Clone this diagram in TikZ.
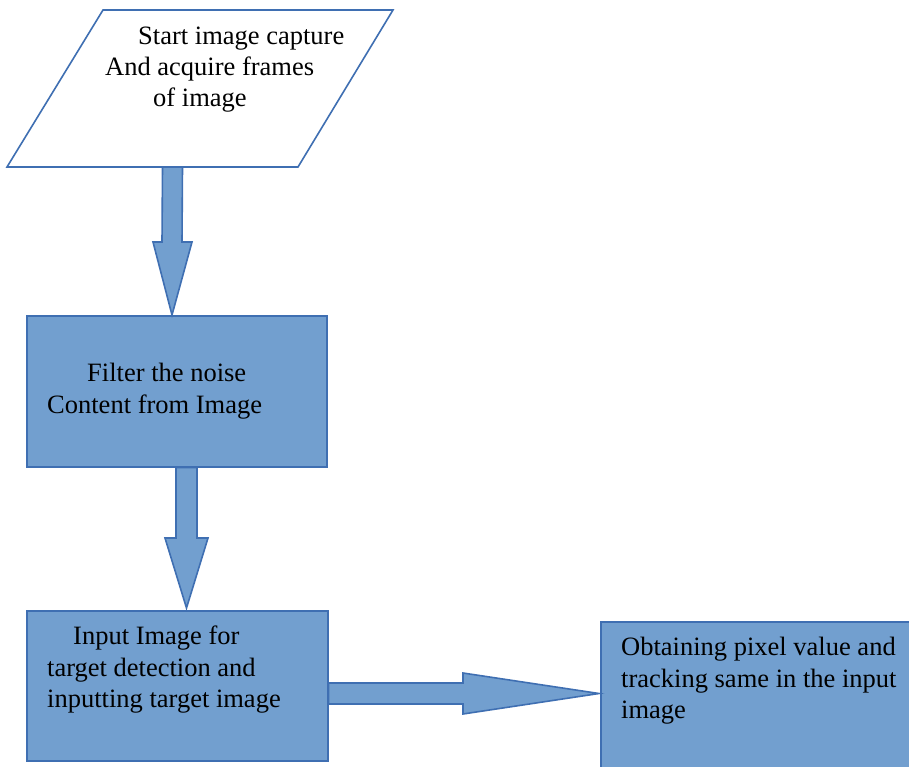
\documentclass[tikz,border=0pt]{standalone}
\usepackage{fontspec}
\setmainfont{Liberation Serif}
\usetikzlibrary{calc}
\definecolor{boxfill}{RGB}{114,159,207}
\definecolor{boxline}{RGB}{63,111,178}
\begin{document}
\begin{tikzpicture}[x=1pt,y=-1pt,
  shapeline/.style={draw=boxline,line width=1.6pt,line join=miter},
  procbox/.style={shapeline,fill=boxfill,rectangle,inner sep=0pt,anchor=north west},
  fatarrow/.style={shapeline,fill=boxfill},
  txt/.style={anchor=base west,inner sep=0pt,font=\fontsize{26.5}{31}\selectfont}]
\useasboundingbox (0,0) rectangle (909,767);
\clip (0,0) rectangle (909,767);
% input parallelogram
\coordinate (ptl) at (103,10);
\coordinate (ptr) at (393,10);
\coordinate (pbr) at (298,167);
\coordinate (pbl) at (7,167);
\draw[shapeline,fill=white] (ptl) -- (ptr) -- (pbr) -- (pbl) -- cycle;
\node[txt] (t1a) at (138,45) {Start image capture};
\node[txt] (t1b) at (105,76) {And acquire frames};
\node[txt] (t1c) at (153,107) {of image};
% process boxes
\node[procbox,minimum width=300pt,minimum height=151pt] (filter) at (26,315) {};
\node[procbox,minimum width=301pt,minimum height=150pt] (input) at (26,610) {};
\node[procbox,minimum width=320pt,minimum height=160pt] (obtain) at (600,621) {};
\node[txt] (t2a) at (87,381) {Filter the noise};
\node[txt] (t2b) at (47,413) {Content from Image};
\node[txt] (t3a) at (73,644) {Input Image for};
\node[txt] (t3b) at (47,676) {target detection and};
\node[txt] (t3c) at (47,707) {inputting target image};
\node[txt] (t4a) at (621,655) {Obtaining pixel value and};
\node[txt] (t4b) at (621,687) {tracking same in the input};
\node[txt] (t4c) at (621,718) {image};
% block arrows
\coordinate (a1s) at ($(pbl)!0.5!(pbr)+(20,0)$);
\coordinate (a1e) at ($(filter.north west)+(146,0)$);
\draw[fatarrow] ($(a1s)+(10,0)$) -- ($(a1e)+(10,-73)$) -- ($(a1e)+(20,-73)$)
  -- (a1e) -- ($(a1e)+(-19,-73)$) -- ($(a1e)+(-10,-73)$) -- ($(a1s)+(-10,0)$) -- cycle;
\coordinate (a2s) at ($(filter.south west)+(160.5,0)$);
\coordinate (a2e) at ($(input.north west)+(160.5,-2)$);
\draw[fatarrow] ($(a2s)+(10.5,0)$) -- ($(a2e)+(10.5,-70)$) -- ($(a2e)+(21.5,-70)$)
  -- (a2e) -- ($(a2e)+(-21.5,-70)$) -- ($(a2e)+(-10.5,-70)$) -- ($(a2s)+(-10.5,0)$) -- cycle;
\coordinate (a3s) at ($(input.north east)+(0,83.5)$);
\coordinate (a3e) at ($(obtain.north west)+(-1,72.5)$);
\draw[fatarrow] ($(a3s)+(0,-10.5)$) -- ($(a3e)+(-136,-10.5)$) -- ($(a3e)+(-136,-20.5)$)
  -- (a3e) -- ($(a3e)+(-136,20.5)$) -- ($(a3e)+(-136,10.5)$) -- ($(a3s)+(0,10.5)$) -- cycle;
\end{tikzpicture}
\end{document}
